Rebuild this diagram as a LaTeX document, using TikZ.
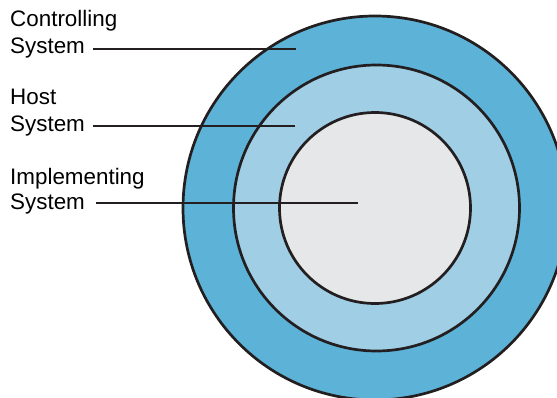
\documentclass[tikz,border=0pt]{standalone}
\usepackage{fontspec}
\setmainfont{Liberation Sans}
\usepackage{tikz}
\usetikzlibrary{positioning}
\definecolor{ringdark}{RGB}{93,179,215}
\definecolor{ringlight}{RGB}{160,206,229}
\definecolor{coregrey}{RGB}{230,231,232}
\definecolor{inkline}{RGB}{35,31,32}

\tikzset{
    ring/.style={draw=inkline, line width=2.7pt},
    lbl/.style={anchor=base west, inner sep=0pt, font=\fontsize{22.4}{26}\selectfont},
    leader/.style={draw=inkline, line width=2.6pt}
}

\begin{document}
\begin{tikzpicture}[x=1pt,y=1pt]
    \clip (0,0) rectangle (557,397);

    % Rings
    \coordinate (mid) at (375,189);
    \filldraw[ring, fill=ringdark] (mid) circle (192);
    \filldraw[ring, fill=ringlight] ([xshift=1.5pt]mid) circle (143);
    \filldraw[ring, fill=coregrey] (mid) circle (95.5);

    % Labels
    \node[lbl] (ctl) at (10,370) {Controlling};
    \node[lbl] (ctlsys) at ([yshift=-26.5pt]ctl.base west) {System};
    \node[lbl] (host) at (10,292.7) {Host};
    \node[lbl] (hostsys) at ([yshift=-27pt]host.base west) {System};
    \node[lbl] (impl) at (10,212.7) {Implementing};
    \node[lbl] (implsys) at ([yshift=-25pt]impl.base west) {System};

    % Leader ends
    \coordinate (ctlend) at (296,348);
    \coordinate (hostend) at (295,271);
    \coordinate (implend) at (358,194);

    \draw[leader] ([xshift=8pt]ctlsys.east |- ctlend) -- (ctlend);
    \draw[leader] ([xshift=8pt]hostsys.east |- hostend) -- (hostend);
    \draw[leader] ([xshift=11pt]implsys.east |- implend) -- (implend);
\end{tikzpicture}
\end{document}
